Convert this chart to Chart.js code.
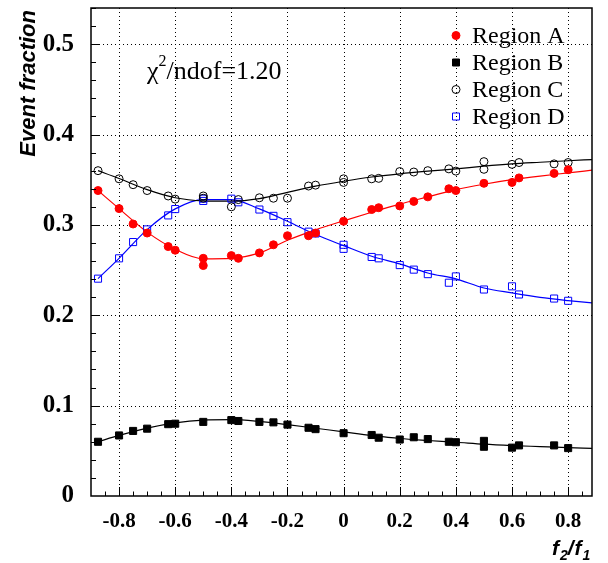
<!DOCTYPE html>
<html>
<head>
<meta charset="utf-8">
<script src="https://cdn.jsdelivr.net/npm/chart.js"></script>
<style>
  body { margin: 0; background: #fff; }
  canvas { display: block; }
</style>
</head>
<body>
<canvas id="myChart" width="608" height="563"></canvas>
<script>
/*
  Event fraction per region versus f2/f1, with the fitted curves.
*/

// Region A (red filled circles)
const regionAX = [-0.875, -0.8, -0.75, -0.7, -0.625, -0.6, -0.5, -0.5, -0.4, -0.375, -0.3, -0.25, -0.2, -0.125, -0.1,
  0, 0.1, 0.125, 0.2, 0.25, 0.3, 0.375, 0.4, 0.5, 0.6, 0.625, 0.75, 0.8];
const regionAY = [0.338, 0.318, 0.301, 0.291, 0.276, 0.272, 0.263, 0.255, 0.266, 0.263, 0.269, 0.278, 0.288, 0.288, 0.291,
  0.304, 0.317, 0.319, 0.321, 0.326, 0.331, 0.340, 0.338, 0.346, 0.347, 0.352, 0.357, 0.361];

// Region B (black filled squares)
const regionBX = [-0.875, -0.8, -0.75, -0.7, -0.625, -0.6, -0.5, -0.4, -0.375, -0.3, -0.25, -0.2, -0.125, -0.1,
  0, 0.1, 0.125, 0.2, 0.25, 0.3, 0.375, 0.4, 0.5, 0.5, 0.6, 0.625, 0.75, 0.8];
const regionBY = [0.060, 0.067, 0.072, 0.0745, 0.0795, 0.080, 0.082, 0.084, 0.083, 0.082, 0.0815, 0.079, 0.0755, 0.074,
  0.0695, 0.0675, 0.0645, 0.0625, 0.065, 0.063, 0.060, 0.0595, 0.061, 0.0545, 0.0535, 0.056, 0.056, 0.053];

// Region C (open circles)
const regionCX = [-0.875, -0.8, -0.75, -0.7, -0.625, -0.6, -0.5, -0.5, -0.4, -0.375, -0.3, -0.25, -0.2, -0.125, -0.1,
  0, 0, 0.1, 0.125, 0.2, 0.25, 0.3, 0.375, 0.4, 0.5, 0.5, 0.6, 0.625, 0.75, 0.8];
const regionCY = [0.360, 0.351, 0.3445, 0.338, 0.332, 0.3285, 0.332, 0.3295, 0.320, 0.328, 0.330, 0.3295, 0.3295, 0.343, 0.344,
  0.351, 0.347, 0.351, 0.3515, 0.359, 0.3585, 0.360, 0.362, 0.3595, 0.370, 0.3615, 0.367, 0.369, 0.3675, 0.369];

// Region D (open blue squares)
const regionDX = [-0.875, -0.8, -0.75, -0.7, -0.625, -0.6, -0.5, -0.5, -0.4, -0.375, -0.3, -0.25, -0.2, -0.125, -0.1,
  0, 0, 0.1, 0.125, 0.2, 0.25, 0.3, 0.375, 0.4, 0.5, 0.6, 0.625, 0.75, 0.8];
const regionDY = [0.2405, 0.263, 0.281, 0.295, 0.3105, 0.3175, 0.329, 0.3265, 0.329, 0.325, 0.317, 0.310, 0.303, 0.2925, 0.2905,
  0.278, 0.2735, 0.2645, 0.263, 0.2555, 0.2505, 0.2455, 0.236, 0.243, 0.2285, 0.232, 0.223, 0.2185, 0.216];

// Fitted curves, sampled along the drawn lines
const fitX = [-0.875, -0.8, -0.7, -0.6, -0.5, -0.4, -0.3, -0.2, -0.1, 0, 0.1, 0.2, 0.3, 0.4, 0.5, 0.6, 0.7, 0.8, 0.885];
const fitA = [0.338, 0.318, 0.292, 0.273, 0.2625, 0.263, 0.269, 0.283, 0.2945, 0.3045, 0.314, 0.323, 0.331, 0.339, 0.345, 0.350, 0.354, 0.3575, 0.3605];
const fitB = [0.060, 0.067, 0.0752, 0.081, 0.084, 0.0845, 0.0825, 0.079, 0.075, 0.071, 0.067, 0.0636, 0.0614, 0.0595, 0.0573, 0.0558, 0.0547, 0.0536, 0.0527];
const fitC = [0.360, 0.3513, 0.339, 0.330, 0.3266, 0.3262, 0.329, 0.336, 0.3428, 0.3483, 0.353, 0.3565, 0.3594, 0.362, 0.365, 0.3675, 0.3693, 0.371, 0.3723];
const fitD = [0.2405, 0.263, 0.2948, 0.3177, 0.328, 0.328, 0.3177, 0.304, 0.2893, 0.2771, 0.2653, 0.2568, 0.2468, 0.2402, 0.2302, 0.2247, 0.2198, 0.2162, 0.2136];

const regionNames = ["Region A", "Region B", "Region C", "Region D"];
const chiText = "1.20";

const RED = "#ff0000";
const BLUE = "#0000ff";

function pts(xs, ys) {
  return xs.map(function (x, i) { return { x: x, y: ys[i] }; });
}

function fitLine(ys, color) {
  return {
    data: pts(fitX, ys),
    showLine: true,
    borderColor: color,
    borderWidth: 1.2,
    pointRadius: 0,
    cubicInterpolationMode: "monotone",
    order: 2,
  };
}

function markers(xs, ys, style, radius, fill, stroke) {
  return {
    data: pts(xs, ys),
    showLine: false,
    pointStyle: style,
    pointRadius: radius,
    pointBackgroundColor: fill,
    pointBorderColor: stroke,
    pointBorderWidth: 1,
    order: 1,
  };
}

/*
  ROOT style frame: dotted grid, inward ticks, legend and text boxes
*/
const rootFrame = {
  id: "rootFrame",
  beforeDatasetsDraw(chart) {
    const ctx = chart.ctx;
    const a = chart.chartArea;
    const xs = chart.scales.x;
    const ys = chart.scales.y;
    ctx.save();
    ctx.strokeStyle = "#000";
    ctx.lineWidth = 1;
    ctx.setLineDash([1, 3]);
    xs.ticks.forEach(function (t) {
      const px = Math.round(xs.getPixelForValue(t.value)) + 0.5;
      ctx.beginPath();
      ctx.moveTo(px, a.top);
      ctx.lineTo(px, a.bottom);
      ctx.stroke();
    });
    ys.ticks.forEach(function (t) {
      if (t.value <= 0) return;
      const py = Math.round(ys.getPixelForValue(t.value)) + 0.5;
      ctx.beginPath();
      ctx.moveTo(a.left, py);
      ctx.lineTo(a.right, py);
      ctx.stroke();
    });
    ctx.restore();
  },
  afterDatasetsDraw(chart) {
    const ctx = chart.ctx;
    const a = chart.chartArea;
    const xs = chart.scales.x;
    const ys = chart.scales.y;
    ctx.save();
    ctx.setLineDash([]);
    ctx.strokeStyle = "#000";

    // frame
    ctx.lineWidth = 1.5;
    ctx.strokeRect(a.left, a.top, a.right - a.left, a.bottom - a.top);

    // ticks on left and bottom axes
    ctx.lineWidth = 1;
    ctx.beginPath();
    for (let k = 1; k <= 27; k++) {
      const py = Math.round(ys.getPixelForValue(k * 0.02)) + 0.5;
      const len = k % 5 === 0 ? 9 : 5;
      ctx.moveTo(a.left, py);
      ctx.lineTo(a.left + len, py);
    }
    for (let k = -17; k <= 17; k++) {
      const px = Math.round(xs.getPixelForValue(k * 0.05)) + 0.5;
      const len = k % 4 === 0 ? 9 : 4.5;
      ctx.moveTo(px, a.bottom);
      ctx.lineTo(px, a.bottom - len);
    }
    ctx.stroke();

    // legend
    const sets = chart.data.datasets.filter(function (d) { return !d.showLine; });
    ctx.font = "24px 'Liberation Serif'";
    ctx.fillStyle = "#000";
    ctx.textBaseline = "alphabetic";
    ctx.textAlign = "left";
    sets.forEach(function (d, i) {
      const y = 35.5 + i * 27;
      const x = 456;
      ctx.fillStyle = d.pointBackgroundColor;
      ctx.strokeStyle = d.pointBorderColor;
      ctx.beginPath();
      if (d.pointStyle === "circle") {
        ctx.arc(x, y, 4, 0, Math.PI * 2);
      } else {
        ctx.rect(x - 3.5, y - 3.5, 7, 7);
      }
      ctx.fill();
      ctx.stroke();
      ctx.fillStyle = "#000";
      ctx.fillText(regionNames[i], 472, y + 7);
    });

    // chi2 / ndof
    let cx = 147;
    ctx.font = "26px 'Liberation Serif'";
    ctx.fillText("\u03c7", cx, 79);
    cx += ctx.measureText("\u03c7").width;
    ctx.font = "16px 'Liberation Serif'";
    ctx.fillText("2", cx, 66);
    cx += ctx.measureText("2").width;
    ctx.font = "26px 'Liberation Serif'";
    ctx.fillText("/ndof=" + chiText, cx, 79);

    // axis titles
    ctx.font = "bold italic 22px 'Liberation Sans'";
    ctx.save();
    ctx.translate(35, 10);
    ctx.rotate(-Math.PI / 2);
    ctx.textAlign = "right";
    ctx.fillText("Event fraction", 0, 0);
    ctx.restore();

    let tx = 552;
    const parts = [["f", 21, 555], ["2", 14, 560], ["/", 21, 555], ["f", 21, 555], ["1", 14, 560]];
    parts.forEach(function (p) {
      ctx.font = "bold italic " + p[1] + "px 'Liberation Sans'";
      ctx.fillText(p[0], tx, p[2]);
      tx += ctx.measureText(p[0]).width + (p[1] === 14 ? 0 : 1);
    });
    ctx.restore();
  },
};

const data = {
  datasets: [
    fitLine(fitA, RED),
    fitLine(fitB, "#000"),
    fitLine(fitC, "#000"),
    fitLine(fitD, BLUE),
    markers(regionAX, regionAY, "circle", 4, RED, RED),
    markers(regionBX, regionBY, "rect", 5, "#000", "#000"),
    markers(regionCX, regionCY, "circle", 4, "rgba(0,0,0,0)", "#000"),
    markers(regionDX, regionDY, "rect", 5, "rgba(0,0,0,0)", BLUE),
  ],
};

const config = {
  type: "scatter",
  data,
  options: {
    responsive: false,
    animation: false,
    layout: { padding: { left: 0, top: 8, right: 16, bottom: 0 } },
    plugins: { legend: { display: false }, tooltip: { enabled: false } },
    scales: {
      x: {
        type: "linear",
        min: -0.9,
        max: 0.885,
        grid: { display: false },
        border: { display: false },
        ticks: {
          stepSize: 0.2,
          includeBounds: false,
          padding: 5,
          color: "#000",
          font: { family: "'Liberation Serif'", size: 21, weight: "bold" },
          callback: function (v) { return Math.abs(v) < 1e-9 ? "0" : v.toFixed(1); },
        },
        afterFit: function (s) {
          s.height = 67;
          s.paddingLeft = 0;
          s.paddingRight = 0;
        },
      },
      y: {
        type: "linear",
        min: 0,
        max: 0.54,
        grid: { display: false },
        border: { display: false },
        ticks: {
          stepSize: 0.1,
          includeBounds: false,
          padding: 9,
          color: "#000",
          font: { family: "'Liberation Serif'", size: 25, weight: "bold" },
          callback: function (v) { return Math.abs(v) < 1e-9 ? "0" : v.toFixed(1); },
        },
        afterFit: function (s) {
          s.width = 91;
          s.paddingTop = 0;
          s.paddingBottom = 0;
        },
      },
    },
  },
  plugins: [rootFrame],
};

const myChart = new Chart(document.getElementById("myChart"), config);
</script>
</body>
</html>
